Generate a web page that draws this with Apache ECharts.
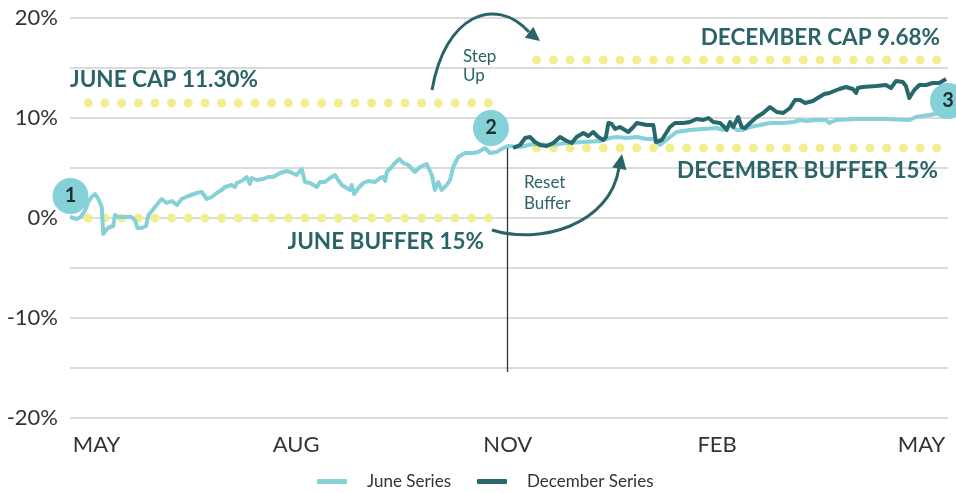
<!DOCTYPE html>
<html>
<head>
<meta charset="utf-8">
<script src="https://cdn.jsdelivr.net/npm/echarts@6/dist/echarts.min.js"></script>
<style>
html,body{margin:0;padding:0;background:#fff;}
#chart{width:956px;height:493px;}
</style>
</head>
<body>
<div id="chart"></div>
<script>
// ---- data ----
const seriesNames = ['June Series', 'December Series'];
const tickLabels = ['MAY', 'AUG', 'NOV', 'FEB', 'MAY'];
const tickDays = [11, 94, 182, 269, 354];

const juneDays = [0,2.8,4.4,6.2,7.6,9.0,10.4,11.8,13.2,13.8,
  15.3,16.6,18.0,18.7,20.1,22.2,25.6,27.0,28.0,29.8,
  31.6,32.6,34.0,36.0,38.1,40.2,42.3,44.4,46.4,49.2,
  52.7,54.8,56.8,58.9,61.0,63.1,64.4,67.2,68.6,69.3,
  71.4,73.5,74.8,75.5,77.6,80.4,82.4,84.5,87.3,90.1,
  91.5,94.2,96.3,97.7,99.8,102.6,103.9,106.0,108.1,110.2,
  111.5,113.0,115.0,116.4,117.1,118.1,119.9,121.9,124.0,126.8,
  128.9,130.2,131.0,131.7,133.7,135.1,136.9,138.6,140.6,143.4,
  145.5,148.3,150.4,151.7,153.1,154.5,156.6,158.0,159.3,161.4,
  164.2,167.7,169.7,172.5,174.6,177.4,180.1,182.2,187.1,192.6,
  199.5,206.5,213.4,220.3,224.5,227.3,231.4,235.6,239.7,242.5,
  245.3,249.4,252.2,257.7,263.3,268.8,271.6,274.4,277.2,279.9,
  282.7,286.8,291.0,296.5,300.7,303.5,306.0,310.1,314.3,315.7,
  318.4,326.8,327.5,329.5,339.2,348.9,351.7,357.2,361.4,364.2];
const juneValues = [0.1,-0.1,0.1,0.7,1.6,2.1,2.4,1.9,1.1,-1.6,
  -1.1,-0.9,-0.8,0.3,0.1,0.1,0.1,-0.2,-1.0,-1.0,
  -0.8,0.3,0.7,1.3,1.9,1.5,1.7,1.3,1.9,2.2,
  2.5,2.6,1.9,2.1,2.5,2.8,3.1,3.3,3.1,3.5,
  3.7,4.1,3.4,4.0,3.8,3.9,4.1,4.1,4.5,4.7,
  4.6,4.3,4.9,3.6,3.5,3.1,3.6,3.6,4.0,4.3,
  3.8,3.3,3.0,2.8,3.3,2.4,3.0,3.5,3.7,3.6,
  4.0,4.1,3.7,4.6,5.1,5.5,5.9,5.5,5.3,4.6,
  5.1,5.4,4.3,2.8,3.6,2.8,3.3,3.8,5.1,6.1,
  6.5,6.5,6.6,7.0,6.5,6.6,7.0,7.2,7.1,7.4,
  7.3,7.5,7.6,7.7,8.0,8.1,8.0,8.1,7.9,7.9,
  7.3,8.1,8.6,8.8,8.9,9.0,8.8,9.3,8.8,8.8,
  9.1,9.3,9.5,9.5,9.6,9.8,9.7,9.8,9.8,9.5,
  9.8,9.9,10.1,9.9,9.9,9.8,10.1,10.3,10.5,10.6];

const decDays = [184.2,187.1,189.2,191.2,193.3,195.4,198.2,200.9,203.7,206.5,
  208.6,210.6,213.4,215.5,217.5,219.6,221.7,222.8,223.8,225.2,
  226.6,228.6,230.7,232.1,234.2,235.6,237.7,239.7,242.5,243.6,
  246.0,248.1,249.4,251.5,255.0,257.7,260.5,263.3,265.4,267.4,
  270.2,271.6,273.0,274.4,275.7,277.8,279.2,280.6,282.7,285.5,
  288.2,291.0,293.8,296.5,299.3,301.4,303.5,305.6,308.8,311.5,
  313.6,315.7,317.7,319.8,322.6,325.4,326.8,327.5,329.5,335.1,
  339.2,341.3,343.4,346.2,347.5,348.9,351.0,353.1,355.9,358.6,
  361.4,364.2];
const decValues = [7.0,7.3,8.0,8.1,7.6,7.3,7.2,7.5,8.1,7.7,
  7.5,8.1,8.5,8.2,8.6,8.1,7.8,8.1,9.5,9.4,
  8.9,9.1,8.8,8.6,9.1,9.5,9.4,9.3,9.3,7.6,
  7.8,8.6,9.1,9.5,9.5,9.6,9.9,9.8,10.0,9.6,
  9.5,9.2,8.8,9.6,9.1,10.1,9.1,9.0,9.5,10.1,
  10.5,11.1,10.6,10.5,11.0,11.8,11.8,11.5,11.7,12.1,
  12.4,12.5,12.7,12.9,13.1,12.9,12.5,13.0,13.1,13.2,
  13.3,13.0,13.7,13.6,13.2,12.0,12.8,13.3,13.3,13.5,
  13.5,13.9];

// reference levels: [startDay, endDay, level]
const juneCap = [7.6, 174.0, 11.5];
const juneBuffer = [7.6, 174.0, 0];
const decCap = [194.0, 361.0, 15.8];
const decBuffer = [194.0, 361.0, 7.0];
const resetDay = 181.7;
const resetLine = [7.2, -15.4];
const milestoneLabels = ['1', '2', '3'];
const milestoneDays = [0.2, 175, 365];
const milestoneValues = [2.2, 9.0, 11.7];

// ---- chart ----
const LIGHT = '#86D1D8';
const DARK = '#27686C';
const YELLOW = '#F1EE8E';
const TEXT_TEAL = '#2A6468';
const FONT = 'Lato, sans-serif';

const zip = (xs, ys) => xs.map((x, i) => [x, ys[i]]);
function dotted(name, r) {
  return {
    type: 'line', name: name, silent: true, symbol: 'none', z: 1,
    data: [[r[0], r[2]], [r[1], r[2]]],
    lineStyle: { color: YELLOW, width: 9, type: [0, 16.67], cap: 'round' },
    tooltip: { show: false }
  };
}
function mp(i) {
  return { coord: [milestoneDays[i], milestoneValues[i]], value: milestoneLabels[i] };
}
const markPointStyle = {
  symbol: 'circle', symbolSize: 36, silent: true,
  itemStyle: { color: LIGHT },
  label: { show: true, formatter: '{c}', color: '#1d2f31', fontSize: 20, fontFamily: FONT, fontWeight: 'bold' }
};

const chart = echarts.init(document.getElementById('chart'), null, { renderer: 'canvas' });
chart.setOption({
  animation: false,
  backgroundColor: '#fff',
  grid: { left: 70, right: 8, top: 18, bottom: 75, containLabel: false },
  xAxis: {
    type: 'value', min: 0, max: 365,
    axisLine: { show: false }, axisTick: { show: false }, splitLine: { show: false },
    axisLabel: {
      customValues: tickDays,
      formatter: v => tickLabels[tickDays.indexOf(v)] || '',
      color: '#333', fontSize: 22, fontFamily: FONT, margin: 16
    }
  },
  yAxis: {
    type: 'value', min: -20, max: 20, interval: 5,
    axisLine: { show: false }, axisTick: { show: false },
    splitLine: { lineStyle: { color: '#cfcfcf', width: 1.5 } },
    axisLabel: {
      formatter: v => (v % 10 === 0 ? v + '%' : ''),
      color: '#333', fontSize: 22, fontFamily: FONT, margin: 12
    }
  },
  legend: {
    data: seriesNames, left: 312, top: 468,
    icon: 'roundRect', itemWidth: 30, itemHeight: 5, itemGap: 26,
    textStyle: { color: '#333', fontSize: 17, fontFamily: FONT, padding: [0, 0, 0, 15] }
  },
  series: [
    dotted('juneCap', juneCap),
    dotted('juneBuffer', juneBuffer),
    dotted('decCap', decCap),
    dotted('decBuffer', decBuffer),
    {
      type: 'line', name: seriesNames[0], data: zip(juneDays, juneValues),
      symbol: 'none', z: 3, color: LIGHT,
      lineStyle: { color: LIGHT, width: 4, join: 'round' },
      markPoint: Object.assign({ data: [mp(0), mp(1)] }, markPointStyle)
    },
    {
      type: 'line', name: seriesNames[1], data: zip(decDays, decValues),
      symbol: 'none', z: 4, color: DARK,
      lineStyle: { color: DARK, width: 4, join: 'round' },
      markLine: {
        silent: true, symbol: 'none', z: 2,
        label: { show: false },
        lineStyle: { color: '#333', width: 1.3, type: 'solid' },
        data: [[{ coord: [resetDay, resetLine[0]] }, { coord: [resetDay, resetLine[1]] }]]
      },
      markPoint: Object.assign({ data: [mp(2)] }, markPointStyle)
    }
  ],
  graphic: [
    { type: 'text', z: 10, style: { text: 'JUNE CAP 11.30%', x: 70, y: 80, textVerticalAlign: 'middle', font: 'bold 22.5px Lato', fill: TEXT_TEAL } },
    { type: 'text', z: 10, style: { text: 'DECEMBER CAP 9.68%', x: 940, y: 38, textAlign: 'right', textVerticalAlign: 'middle', font: 'bold 22.5px Lato', fill: TEXT_TEAL } },
    { type: 'text', z: 10, style: { text: 'DECEMBER BUFFER 15%', x: 938, y: 171, textAlign: 'right', textVerticalAlign: 'middle', font: 'bold 22.5px Lato', fill: TEXT_TEAL } },
    { type: 'text', z: 10, style: { text: 'JUNE BUFFER 15%', x: 484, y: 242, textAlign: 'right', textVerticalAlign: 'middle', font: 'bold 22.5px Lato', fill: TEXT_TEAL } },
    { type: 'text', z: 10, style: { text: 'Step\nUp', x: 463, y: 66, textVerticalAlign: 'middle', font: '17px Lato', lineHeight: 19, fill: TEXT_TEAL } },
    { type: 'text', z: 10, style: { text: 'Reset\nBuffer', x: 524, y: 193, textVerticalAlign: 'middle', font: '17px Lato', lineHeight: 21, fill: TEXT_TEAL } },
    { type: 'bezierCurve', z: 10, shape: { x1: 432, y1: 90, cpx1: 445, cpy1: 15, cpx2: 495, cpy2: -5, x2: 529, y2: 32 }, style: { stroke: TEXT_TEAL, lineWidth: 3, fill: null } },
    { type: 'polygon', z: 10, shape: { points: [[540, 41], [524.8, 37.8], [533.4, 26.8]] }, style: { fill: TEXT_TEAL } },
    { type: 'bezierCurve', z: 10, shape: { x1: 492, y1: 230, cpx1: 540, cpy1: 245, cpx2: 610, cpy2: 225, x2: 619, y2: 168 }, style: { stroke: TEXT_TEAL, lineWidth: 3, fill: null } },
    { type: 'polygon', z: 10, shape: { points: [[622, 154], [626.5, 170], [612.2, 167.5]] }, style: { fill: TEXT_TEAL } }
  ]
});
</script>
</body>
</html>
